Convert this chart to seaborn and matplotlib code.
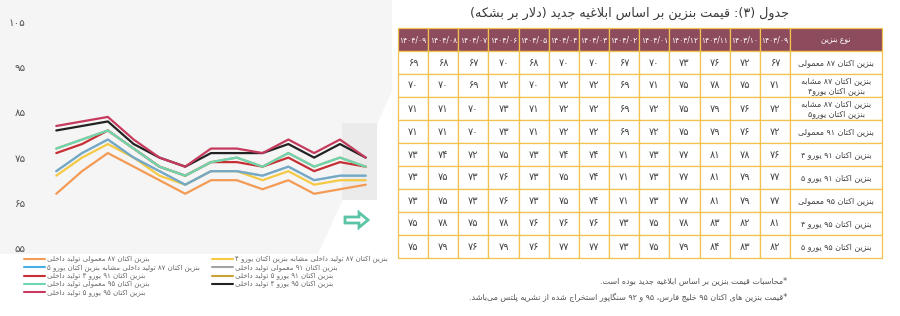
import re
import pandas as pd
import seaborn as sns
import matplotlib.pyplot as plt
import matplotlib.patches as mpatches
from matplotlib.lines import Line2D
from matplotlib.transforms import IdentityTransform

# months, oldest first (the table shows them newest first)
months = ['۱۴۰۳/۰۹', '۱۴۰۳/۱۰', '۱۴۰۳/۱۱', '۱۴۰۳/۱۲', '۱۴۰۴/۰۱', '۱۴۰۴/۰۲', '۱۴۰۴/۰۳',
          '۱۴۰۴/۰۴', '۱۴۰۴/۰۵', '۱۴۰۴/۰۶', '۱۴۰۴/۰۷', '۱۴۰۴/۰۸', '۱۴۰۴/۰۹']

oct87 = [67, 72, 76, 73, 70, 67, 70, 70, 68, 70, 67, 68, 69]
oct87_e4 = [71, 75, 78, 75, 71, 69, 72, 72, 70, 72, 69, 70, 70]
oct87_e5 = [72, 76, 79, 75, 72, 69, 72, 72, 71, 73, 70, 71, 71]
oct91 = [72, 76, 79, 75, 72, 69, 72, 72, 71, 73, 70, 71, 71]
oct91_e4 = [76, 78, 81, 77, 73, 71, 74, 74, 73, 75, 72, 74, 73]
oct91_e5 = [77, 79, 81, 77, 73, 71, 74, 75, 73, 76, 73, 75, 73]
oct95 = [77, 79, 81, 77, 73, 71, 74, 75, 73, 76, 73, 75, 73]
oct95_e4 = [81, 82, 83, 78, 75, 73, 76, 76, 76, 78, 75, 78, 75]
oct95_e5 = [82, 83, 84, 79, 75, 73, 77, 77, 76, 79, 76, 79, 75]

series_values = [oct87, oct87_e4, oct87_e5, oct91, oct91_e4, oct91_e5, oct95, oct95_e4, oct95_e5]

legend_names = [
    'بنزین اکتان ۸۷ معمولی تولید داخلی',
    'بنزین اکتان ۸۷ تولید داخلی مشابه بنزین اکتان یورو ۴',
    'بنزین اکتان ۸۷ تولید داخلی مشابه بنزین اکتان یورو ۵',
    'بنزین اکتان ۹۱ معمولی تولید داخلی',
    'بنزین اکتان ۹۱ یورو ۴ تولید داخلی',
    'بنزین اکتان ۹۱ یورو ۵ تولید داخلی',
    'بنزین اکتان ۹۵ معمولی تولید داخلی',
    'بنزین اکتان ۹۵ یورو ۴ تولید داخلی',
    'بنزین اکتان ۹۵ یورو ۵ تولید داخلی',
]
table_names = [
    ['بنزین اکتان ۸۷ معمولی'],
    ['بنزین اکتان ۸۷ مشابه', 'بنزین اکتان یورو۴'],
    ['بنزین اکتان ۸۷ مشابه', 'بنزین اکتان یورو۵'],
    ['بنزین اکتان ۹۱ معمولی'],
    ['بنزین اکتان ۹۱ یورو ۴'],
    ['بنزین اکتان ۹۱ یورو ۵'],
    ['بنزین اکتان ۹۵ معمولی'],
    ['بنزین اکتان ۹۵ یورو ۴'],
    ['بنزین اکتان ۹۵ یورو ۵'],
]
colors = ['#f39a55', '#f6c945', '#4aaee6', '#a3a3a3', '#c62f36',
          '#caa233', '#6fd4b4', '#222222', '#c53a5d']

yticks = [55, 65, 75, 85, 95, 105]
title = 'جدول (۳): قیمت بنزین بر اساس ابلاغیه جدید (دلار بر بشکه)'
head_label = 'نوع بنزین'
notes = ['*محاسبات قیمت بنزین بر اساس ابلاغیه جدید بوده است.',
         '*قیمت بنزین های اکتان ۹۵ خلیج فارس، ۹۵ و ۹۲ سنگاپور استخراج شده از نشریه پلتس می\u200cباشد.']

# --- tiny persian shaper + rtl reorder (matplotlib has none) ---
DUAL = {'ب': 0xFE8F, 'ت': 0xFE95, 'ث': 0xFE99, 'ج': 0xFE9D, 'ح': 0xFEA1, 'خ': 0xFEA5,
        'س': 0xFEB1, 'ش': 0xFEB5, 'ص': 0xFEB9, 'ض': 0xFEBD, 'ط': 0xFEC1, 'ظ': 0xFEC5,
        'ع': 0xFEC9, 'غ': 0xFECD, 'ف': 0xFED1, 'ق': 0xFED5, 'ل': 0xFEDD, 'م': 0xFEE1,
        'ن': 0xFEE5, 'ه': 0xFEE9, 'پ': 0xFB56, 'چ': 0xFB7A, 'ک': 0xFB8E, 'گ': 0xFB92,
        'ی': 0xFBFC}
RIGHT = {'ا': 0xFE8D, 'آ': 0xFE81, 'د': 0xFEA9, 'ذ': 0xFEAB, 'ر': 0xFEAD, 'ز': 0xFEAF,
         'ژ': 0xFB8A, 'و': 0xFEED}
FA_DIGITS = '۰۱۲۳۴۵۶۷۸۹'


def shape(s):
    out = []
    i = 0
    while i < len(s):
        c = s[i]
        if c not in DUAL and c not in RIGHT:
            out.append(c)
            i += 1
            continue
        p = i > 0 and s[i - 1] in DUAL
        if c == 'ل' and i + 1 < len(s) and s[i + 1] in 'اآ':
            lig = 0xFEFB if s[i + 1] == 'ا' else 0xFEF5
            out.append(chr(lig + (1 if p else 0)))
            i += 2
            continue
        nxt = s[i + 1] if i + 1 < len(s) else ''
        if c in DUAL:
            q = nxt in DUAL or nxt in RIGHT
            off = 3 if (p and q) else 1 if p else 2 if q else 0
            out.append(chr(DUAL[c] + off))
        else:
            out.append(chr(RIGHT[c] + (1 if p else 0)))
        i += 1
    return ''.join(out).replace('\u200c', '')


def fa(s):
    s = shape(s)
    runs = re.findall(r'[0-9۰-۹]+(?:[/.][0-9۰-۹]+)*|[^0-9۰-۹]+', s)
    mirror = {'(': ')', ')': '('}
    vis = []
    for r in reversed(runs):
        if r[0] in FA_DIGITS or r[0].isdigit():
            vis.append(r)
        else:
            vis.append(''.join(mirror.get(ch, ch) for ch in reversed(r)))
    return ''.join(vis)


def fa_num(n):
    return str(n).translate(str.maketrans('0123456789', FA_DIGITS))


df = pd.DataFrame({
    'month': months * len(series_values),
    'price': [v for vals in series_values for v in vals],
    'series': [name for name, vals in zip(legend_names, series_values) for _ in vals],
})
palette = dict(zip(legend_names, colors))

sns.set_style('white')
plt.rcParams['font.family'] = ['DejaVu Sans']

W, H = 900, 316
fig = plt.figure(figsize=(9, 3.16), dpi=100)
fig.patch.set_facecolor('white')


def fx(x):
    return x / W


def fy(y):
    return 1 - y / H


# pale backdrop behind the chart
fig.patches.append(mpatches.Polygon([(0, 316), (392, 316), (392, 225), (318, 62), (0, 62)],
                                    closed=True, transform=IdentityTransform(),
                                    fc='#f5f5f5', ec='none', zorder=-10))

ax = fig.add_axes([fx(55), fy(248), (367 - 55) / W, (248 - 22) / H])
ax.patch.set_alpha(0)
ax.add_patch(mpatches.Rectangle((fx(342), fy(200)), 35 / W, 77 / H, transform=fig.transFigure,
                                fc='#ebebeb', ec='none', zorder=0, clip_on=False))
sns.lineplot(data=df, x='month', y='price', hue='series', hue_order=legend_names,
             palette=palette, linewidth=1.6, legend=False, ax=ax, zorder=3)
for line in ax.get_lines():
    if line.get_color() == colors[3]:
        line.set_alpha(0.5)
ax.set_xlim(-0.05, 12.05)
ax.set_ylim(55, 105)
ax.set_xticks([])
ax.set_yticks(yticks)
ax.set_yticklabels([fa_num(t) for t in yticks], fontsize=7.5, color='#555555')
ax.tick_params(axis='y', length=0, pad=21)
ax.set_xlabel('')
ax.set_ylabel('')
sns.despine(ax=ax, left=True, bottom=True)

# teal arrow
fig.patches.append(mpatches.FancyArrow(345, 316 - 220, 14, 0, width=6, head_width=15,
                                       head_length=9, length_includes_head=False,
                                       transform=IdentityTransform(), fill=False,
                                       ec='#5cc4a6', lw=2, zorder=2))

# legend in two columns (row-major order)
handles = [Line2D([0], [0], color=c, lw=1.5) for c in colors]
left_idx = [0, 2, 4, 6, 8]
right_idx = [1, 3, 5, 7]
for idx, x0 in [(left_idx, 24), (right_idx, 212)]:
    leg = fig.legend([handles[i] for i in idx], [fa(legend_names[i]) for i in idx],
                     loc='upper left', bbox_to_anchor=(fx(x0), fy(256)), frameon=False,
                     fontsize=5, handlelength=3.0, handletextpad=0.3,
                     labelspacing=0.18, borderpad=0, borderaxespad=0)
    for t in leg.get_texts():
        t.set_color('#666666')

# table
tax = fig.add_axes([fx(398), fy(258), (882 - 398) / W, (258 - 28) / H])
tax.axis('off')
rows = [[m for m in months[::-1]] + [fa(head_label)]]
for vals, lab in zip(series_values, table_names):
    rows.append([fa_num(v) for v in vals[::-1]] + ['\n'.join(fa(s) for s in lab)])
dw = (790 - 398) / 13 / (882 - 398)
tbl = tax.table(cellText=rows, colWidths=[dw] * 13 + [1 - 13 * dw], cellLoc='center',
                bbox=[0, 0, 1, 1])
tbl.auto_set_font_size(False)
for (r, c), cell in tbl.get_celld().items():
    cell.set_edgecolor('#f2c14e')
    cell.set_linewidth(0.9)
    txt = cell.get_text()
    if r == 0:
        cell.set_facecolor('#8d4b5e')
        txt.set_color('white')
        txt.set_fontsize(5.5)
    else:
        cell.set_facecolor('white')
        txt.set_color('#444444')
        txt.set_fontsize(5.8 if c == 13 else 7)

fig.text(fx(630), fy(13), fa(title), ha='center', va='center', fontsize=9.2, color='#3a3a3a')
fig.text(fx(787), fy(281), fa(notes[0]), ha='right', va='center', fontsize=5.8, color='#555555')
fig.text(fx(787), fy(298), fa(notes[1]), ha='right', va='center', fontsize=5.8, color='#555555')

fig.savefig('out.png', dpi=100)
